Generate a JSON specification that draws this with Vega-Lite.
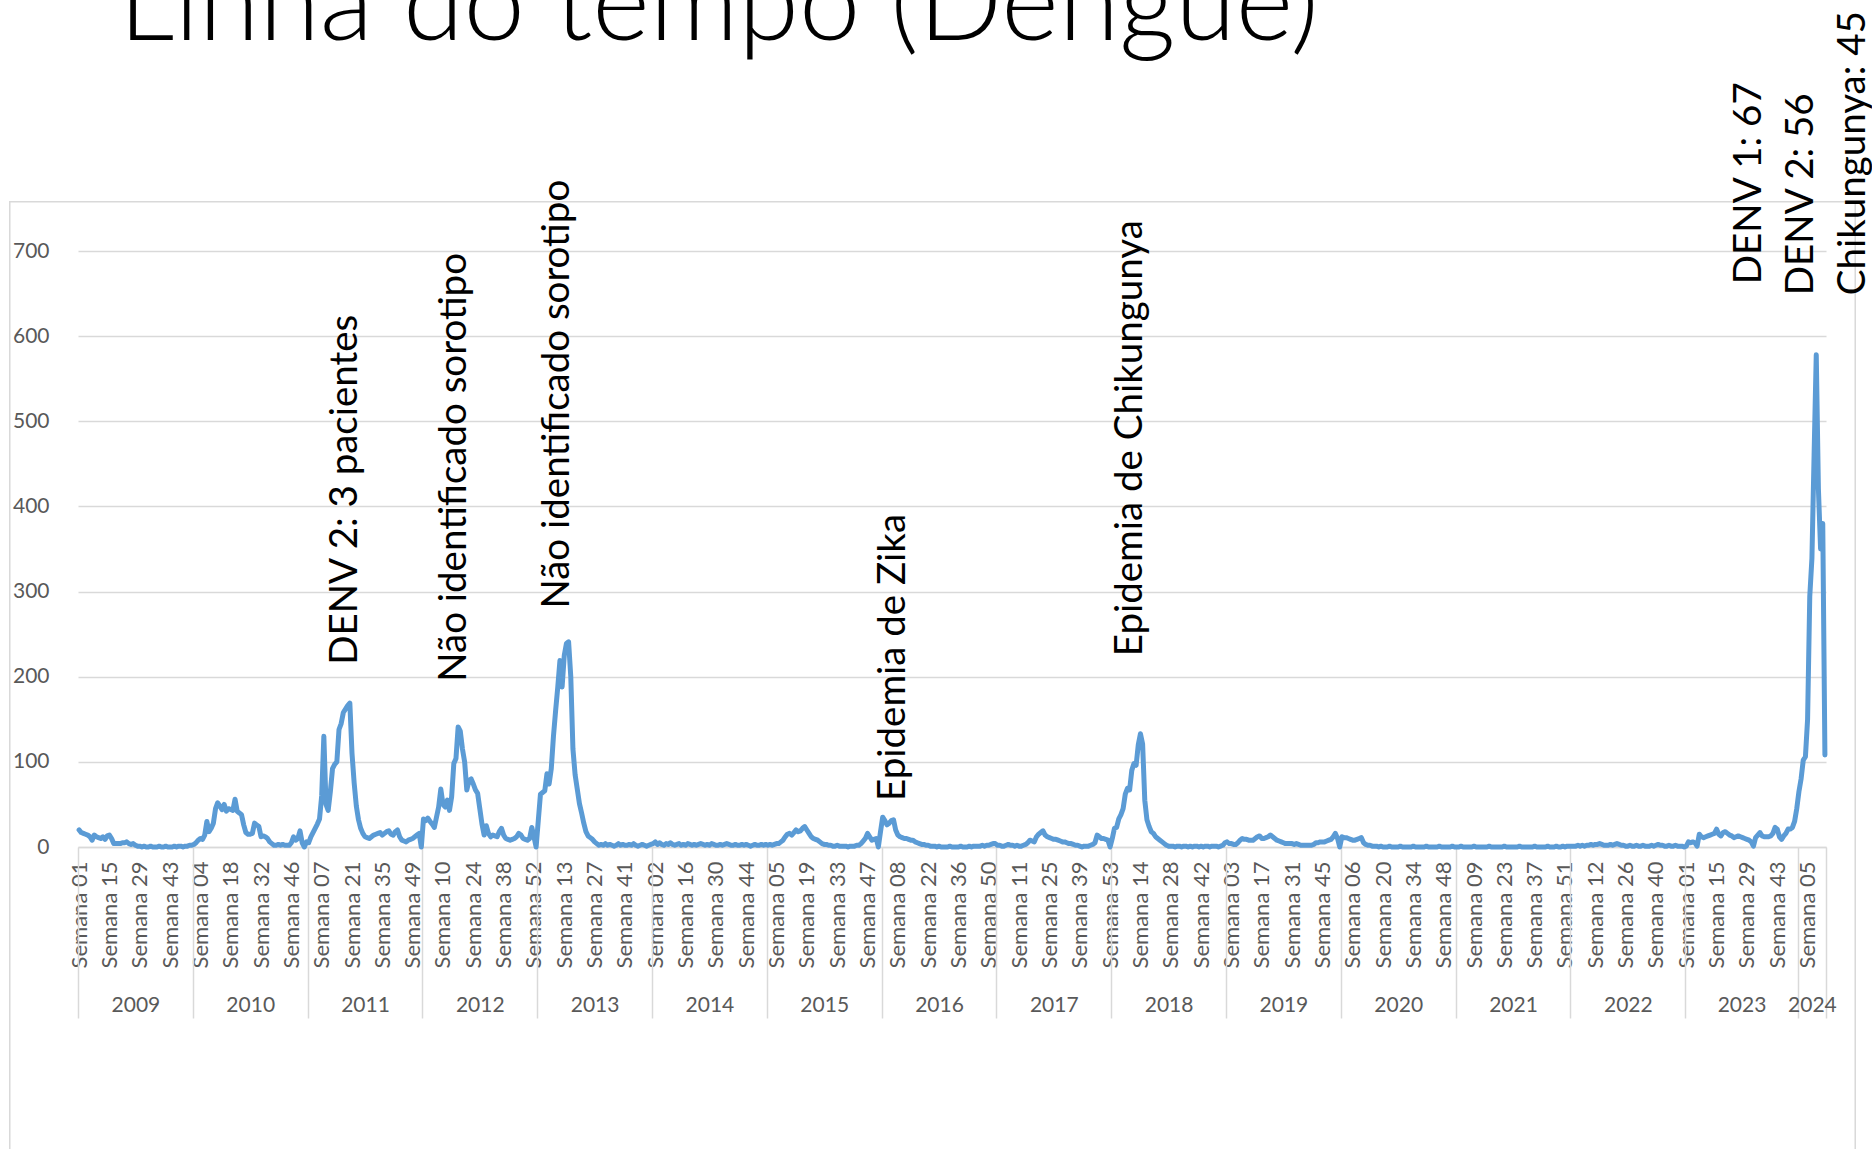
{
  "$schema": "https://vega.github.io/schema/vega-lite/v6.json",
  "autosize": {"type": "none"},
  "width": 1748,
  "height": 596,
  "padding": {"left": 78, "top": 251, "right": 46, "bottom": 302},
  "background": "white",
  "config": {"view": {"stroke": null}, "font": "Lato"},
  "datasets": {
    "casos": [
{"i":0,"v":20},{"i":1,"v":17},{"i":2,"v":16},{"i":3,"v":15},{"i":4,"v":14},{"i":5,"v":12},{"i":6,"v":8},{"i":7,"v":14},{"i":8,"v":12},{"i":9,"v":11},{"i":10,"v":10},{"i":11,"v":12},{"i":12,"v":9},{"i":13,"v":13},{"i":14,"v":14},{"i":15,"v":10},{"i":16,"v":4},{"i":17,"v":4},{"i":18,"v":4},{"i":19,"v":4},{"i":20,"v":5},{"i":21,"v":5},{"i":22,"v":6},{"i":23,"v":4},{"i":24,"v":3},{"i":25,"v":4},{"i":26,"v":2},{"i":27,"v":1},{"i":28,"v":1},{"i":29,"v":0},{"i":30,"v":1},{"i":31,"v":0},{"i":32,"v":0},{"i":33,"v":1},{"i":34,"v":0},{"i":35,"v":0},{"i":36,"v":0},{"i":37,"v":1},{"i":38,"v":0},{"i":39,"v":0},{"i":40,"v":1},{"i":41,"v":0},{"i":42,"v":0},{"i":43,"v":0},{"i":44,"v":1},{"i":45,"v":0},{"i":46,"v":1},{"i":47,"v":1},{"i":48,"v":0},{"i":49,"v":1},{"i":50,"v":1},{"i":51,"v":2},{"i":52,"v":2},
{"i":53,"v":3},{"i":54,"v":5},{"i":55,"v":8},{"i":56,"v":10},{"i":57,"v":9},{"i":58,"v":14},{"i":59,"v":30},{"i":60,"v":18},{"i":61,"v":22},{"i":62,"v":28},{"i":63,"v":45},{"i":64,"v":52},{"i":65,"v":48},{"i":66,"v":44},{"i":67,"v":50},{"i":68,"v":42},{"i":69,"v":45},{"i":70,"v":44},{"i":71,"v":43},{"i":72,"v":56},{"i":73,"v":42},{"i":74,"v":40},{"i":75,"v":38},{"i":76,"v":26},{"i":77,"v":17},{"i":78,"v":15},{"i":79,"v":15},{"i":80,"v":16},{"i":81,"v":28},{"i":82,"v":26},{"i":83,"v":24},{"i":84,"v":12},{"i":85,"v":13},{"i":86,"v":12},{"i":87,"v":10},{"i":88,"v":6},{"i":89,"v":4},{"i":90,"v":2},{"i":91,"v":2},{"i":92,"v":3},{"i":93,"v":2},{"i":94,"v":3},{"i":95,"v":2},{"i":96,"v":2},{"i":97,"v":2},{"i":98,"v":5},{"i":99,"v":12},{"i":100,"v":8},{"i":101,"v":10},{"i":102,"v":19},{"i":103,"v":5},{"i":104,"v":0},{"i":105,"v":6},
{"i":106,"v":5},{"i":107,"v":12},{"i":108,"v":17},{"i":109,"v":22},{"i":110,"v":27},{"i":111,"v":33},{"i":112,"v":60},{"i":113,"v":130},{"i":114,"v":50},{"i":115,"v":43},{"i":116,"v":65},{"i":117,"v":92},{"i":118,"v":97},{"i":119,"v":100},{"i":120,"v":138},{"i":121,"v":145},{"i":122,"v":158},{"i":123,"v":162},{"i":124,"v":166},{"i":125,"v":169},{"i":126,"v":110},{"i":127,"v":75},{"i":128,"v":48},{"i":129,"v":32},{"i":130,"v":22},{"i":131,"v":16},{"i":132,"v":12},{"i":133,"v":11},{"i":134,"v":10},{"i":135,"v":12},{"i":136,"v":14},{"i":137,"v":15},{"i":138,"v":16},{"i":139,"v":17},{"i":140,"v":14},{"i":141,"v":16},{"i":142,"v":18},{"i":143,"v":19},{"i":144,"v":15},{"i":145,"v":14},{"i":146,"v":18},{"i":147,"v":20},{"i":148,"v":12},{"i":149,"v":8},{"i":150,"v":7},{"i":151,"v":6},{"i":152,"v":8},{"i":153,"v":9},{"i":154,"v":10},{"i":155,"v":12},{"i":156,"v":14},{"i":157,"v":16},{"i":158,"v":0},
{"i":159,"v":33},{"i":160,"v":31},{"i":161,"v":34},{"i":162,"v":30},{"i":163,"v":27},{"i":164,"v":23},{"i":165,"v":35},{"i":166,"v":47},{"i":167,"v":68},{"i":168,"v":50},{"i":169,"v":47},{"i":170,"v":55},{"i":171,"v":43},{"i":172,"v":59},{"i":173,"v":98},{"i":174,"v":104},{"i":175,"v":141},{"i":176,"v":136},{"i":177,"v":115},{"i":178,"v":100},{"i":179,"v":67},{"i":180,"v":78},{"i":181,"v":80},{"i":182,"v":74},{"i":183,"v":67},{"i":184,"v":63},{"i":185,"v":45},{"i":186,"v":27},{"i":187,"v":14},{"i":188,"v":25},{"i":189,"v":16},{"i":190,"v":12},{"i":191,"v":14},{"i":192,"v":13},{"i":193,"v":12},{"i":194,"v":18},{"i":195,"v":22},{"i":196,"v":14},{"i":197,"v":10},{"i":198,"v":9},{"i":199,"v":8},{"i":200,"v":9},{"i":201,"v":10},{"i":202,"v":12},{"i":203,"v":16},{"i":204,"v":14},{"i":205,"v":10},{"i":206,"v":9},{"i":207,"v":8},{"i":208,"v":10},{"i":209,"v":23},{"i":210,"v":12},{"i":211,"v":0},
{"i":212,"v":31},{"i":213,"v":62},{"i":214,"v":64},{"i":215,"v":66},{"i":216,"v":86},{"i":217,"v":74},{"i":218,"v":92},{"i":219,"v":130},{"i":220,"v":160},{"i":221,"v":188},{"i":222,"v":219},{"i":223,"v":188},{"i":224,"v":225},{"i":225,"v":239},{"i":226,"v":241},{"i":227,"v":200},{"i":228,"v":115},{"i":229,"v":85},{"i":230,"v":68},{"i":231,"v":51},{"i":232,"v":40},{"i":233,"v":28},{"i":234,"v":18},{"i":235,"v":13},{"i":236,"v":11},{"i":237,"v":9},{"i":238,"v":6},{"i":239,"v":4},{"i":240,"v":2},{"i":241,"v":3},{"i":242,"v":2},{"i":243,"v":4},{"i":244,"v":2},{"i":245,"v":3},{"i":246,"v":2},{"i":247,"v":1},{"i":248,"v":2},{"i":249,"v":4},{"i":250,"v":2},{"i":251,"v":3},{"i":252,"v":2},{"i":253,"v":2},{"i":254,"v":3},{"i":255,"v":2},{"i":256,"v":4},{"i":257,"v":2},{"i":258,"v":1},{"i":259,"v":2},{"i":260,"v":3},{"i":261,"v":2},{"i":262,"v":1},{"i":263,"v":2},{"i":264,"v":3},
{"i":265,"v":4},{"i":266,"v":6},{"i":267,"v":3},{"i":268,"v":5},{"i":269,"v":3},{"i":270,"v":2},{"i":271,"v":4},{"i":272,"v":3},{"i":273,"v":5},{"i":274,"v":3},{"i":275,"v":2},{"i":276,"v":3},{"i":277,"v":4},{"i":278,"v":2},{"i":279,"v":3},{"i":280,"v":2},{"i":281,"v":4},{"i":282,"v":3},{"i":283,"v":2},{"i":284,"v":3},{"i":285,"v":2},{"i":286,"v":3},{"i":287,"v":4},{"i":288,"v":3},{"i":289,"v":2},{"i":290,"v":3},{"i":291,"v":2},{"i":292,"v":4},{"i":293,"v":3},{"i":294,"v":2},{"i":295,"v":2},{"i":296,"v":3},{"i":297,"v":2},{"i":298,"v":3},{"i":299,"v":4},{"i":300,"v":3},{"i":301,"v":2},{"i":302,"v":2},{"i":303,"v":3},{"i":304,"v":2},{"i":305,"v":2},{"i":306,"v":3},{"i":307,"v":2},{"i":308,"v":3},{"i":309,"v":2},{"i":310,"v":1},{"i":311,"v":2},{"i":312,"v":3},{"i":313,"v":2},{"i":314,"v":2},{"i":315,"v":3},{"i":316,"v":2},{"i":317,"v":3},
{"i":318,"v":2},{"i":319,"v":3},{"i":320,"v":2},{"i":321,"v":3},{"i":322,"v":4},{"i":323,"v":4},{"i":324,"v":6},{"i":325,"v":8},{"i":326,"v":12},{"i":327,"v":15},{"i":328,"v":16},{"i":329,"v":14},{"i":330,"v":17},{"i":331,"v":20},{"i":332,"v":18},{"i":333,"v":19},{"i":334,"v":22},{"i":335,"v":24},{"i":336,"v":20},{"i":337,"v":16},{"i":338,"v":12},{"i":339,"v":10},{"i":340,"v":9},{"i":341,"v":8},{"i":342,"v":6},{"i":343,"v":4},{"i":344,"v":3},{"i":345,"v":3},{"i":346,"v":2},{"i":347,"v":2},{"i":348,"v":1},{"i":349,"v":1},{"i":350,"v":2},{"i":351,"v":1},{"i":352,"v":1},{"i":353,"v":1},{"i":354,"v":1},{"i":355,"v":0},{"i":356,"v":1},{"i":357,"v":1},{"i":358,"v":1},{"i":359,"v":2},{"i":360,"v":2},{"i":361,"v":4},{"i":362,"v":7},{"i":363,"v":10},{"i":364,"v":16},{"i":365,"v":12},{"i":366,"v":8},{"i":367,"v":9},{"i":368,"v":10},{"i":369,"v":0},{"i":370,"v":18},
{"i":371,"v":35},{"i":372,"v":31},{"i":373,"v":26},{"i":374,"v":28},{"i":375,"v":31},{"i":376,"v":32},{"i":377,"v":20},{"i":378,"v":14},{"i":379,"v":12},{"i":380,"v":11},{"i":381,"v":10},{"i":382,"v":10},{"i":383,"v":9},{"i":384,"v":8},{"i":385,"v":8},{"i":386,"v":6},{"i":387,"v":5},{"i":388,"v":4},{"i":389,"v":3},{"i":390,"v":3},{"i":391,"v":2},{"i":392,"v":2},{"i":393,"v":1},{"i":394,"v":1},{"i":395,"v":1},{"i":396,"v":0},{"i":397,"v":1},{"i":398,"v":0},{"i":399,"v":0},{"i":400,"v":0},{"i":401,"v":0},{"i":402,"v":1},{"i":403,"v":0},{"i":404,"v":0},{"i":405,"v":0},{"i":406,"v":0},{"i":407,"v":1},{"i":408,"v":0},{"i":409,"v":0},{"i":410,"v":0},{"i":411,"v":1},{"i":412,"v":0},{"i":413,"v":1},{"i":414,"v":1},{"i":415,"v":1},{"i":416,"v":1},{"i":417,"v":2},{"i":418,"v":1},{"i":419,"v":2},{"i":420,"v":2},{"i":421,"v":3},{"i":422,"v":4},{"i":423,"v":4},
{"i":424,"v":2},{"i":425,"v":2},{"i":426,"v":1},{"i":427,"v":1},{"i":428,"v":2},{"i":429,"v":3},{"i":430,"v":2},{"i":431,"v":2},{"i":432,"v":1},{"i":433,"v":2},{"i":434,"v":1},{"i":435,"v":1},{"i":436,"v":2},{"i":437,"v":3},{"i":438,"v":5},{"i":439,"v":8},{"i":440,"v":7},{"i":441,"v":6},{"i":442,"v":12},{"i":443,"v":15},{"i":444,"v":17},{"i":445,"v":19},{"i":446,"v":14},{"i":447,"v":12},{"i":448,"v":11},{"i":449,"v":10},{"i":450,"v":9},{"i":451,"v":9},{"i":452,"v":8},{"i":453,"v":7},{"i":454,"v":6},{"i":455,"v":6},{"i":456,"v":5},{"i":457,"v":4},{"i":458,"v":4},{"i":459,"v":3},{"i":460,"v":2},{"i":461,"v":2},{"i":462,"v":1},{"i":463,"v":0},{"i":464,"v":1},{"i":465,"v":1},{"i":466,"v":1},{"i":467,"v":2},{"i":468,"v":3},{"i":469,"v":5},{"i":470,"v":14},{"i":471,"v":12},{"i":472,"v":10},{"i":473,"v":10},{"i":474,"v":9},{"i":475,"v":8},{"i":476,"v":0},
{"i":477,"v":10},{"i":478,"v":22},{"i":479,"v":23},{"i":480,"v":33},{"i":481,"v":38},{"i":482,"v":45},{"i":483,"v":62},{"i":484,"v":69},{"i":485,"v":67},{"i":486,"v":90},{"i":487,"v":98},{"i":488,"v":96},{"i":489,"v":120},{"i":490,"v":133},{"i":491,"v":121},{"i":492,"v":55},{"i":493,"v":32},{"i":494,"v":24},{"i":495,"v":18},{"i":496,"v":16},{"i":497,"v":12},{"i":498,"v":10},{"i":499,"v":8},{"i":500,"v":6},{"i":501,"v":4},{"i":502,"v":2},{"i":503,"v":1},{"i":504,"v":1},{"i":505,"v":1},{"i":506,"v":0},{"i":507,"v":1},{"i":508,"v":1},{"i":509,"v":0},{"i":510,"v":1},{"i":511,"v":1},{"i":512,"v":0},{"i":513,"v":1},{"i":514,"v":0},{"i":515,"v":1},{"i":516,"v":1},{"i":517,"v":0},{"i":518,"v":1},{"i":519,"v":0},{"i":520,"v":1},{"i":521,"v":1},{"i":522,"v":0},{"i":523,"v":1},{"i":524,"v":1},{"i":525,"v":1},{"i":526,"v":0},{"i":527,"v":1},{"i":528,"v":2},{"i":529,"v":5},
{"i":530,"v":6},{"i":531,"v":4},{"i":532,"v":4},{"i":533,"v":3},{"i":534,"v":3},{"i":535,"v":5},{"i":536,"v":8},{"i":537,"v":10},{"i":538,"v":9},{"i":539,"v":9},{"i":540,"v":8},{"i":541,"v":8},{"i":542,"v":8},{"i":543,"v":10},{"i":544,"v":12},{"i":545,"v":13},{"i":546,"v":10},{"i":547,"v":10},{"i":548,"v":11},{"i":549,"v":12},{"i":550,"v":14},{"i":551,"v":12},{"i":552,"v":10},{"i":553,"v":8},{"i":554,"v":7},{"i":555,"v":6},{"i":556,"v":5},{"i":557,"v":4},{"i":558,"v":4},{"i":559,"v":4},{"i":560,"v":4},{"i":561,"v":3},{"i":562,"v":4},{"i":563,"v":3},{"i":564,"v":2},{"i":565,"v":2},{"i":566,"v":2},{"i":567,"v":2},{"i":568,"v":2},{"i":569,"v":2},{"i":570,"v":3},{"i":571,"v":5},{"i":572,"v":5},{"i":573,"v":6},{"i":574,"v":6},{"i":575,"v":6},{"i":576,"v":7},{"i":577,"v":8},{"i":578,"v":9},{"i":579,"v":12},{"i":580,"v":16},{"i":581,"v":10},{"i":582,"v":0},
{"i":583,"v":12},{"i":584,"v":11},{"i":585,"v":11},{"i":586,"v":10},{"i":587,"v":9},{"i":588,"v":8},{"i":589,"v":8},{"i":590,"v":9},{"i":591,"v":10},{"i":592,"v":11},{"i":593,"v":5},{"i":594,"v":3},{"i":595,"v":2},{"i":596,"v":2},{"i":597,"v":1},{"i":598,"v":1},{"i":599,"v":1},{"i":600,"v":0},{"i":601,"v":1},{"i":602,"v":0},{"i":603,"v":0},{"i":604,"v":0},{"i":605,"v":1},{"i":606,"v":0},{"i":607,"v":0},{"i":608,"v":0},{"i":609,"v":0},{"i":610,"v":1},{"i":611,"v":0},{"i":612,"v":0},{"i":613,"v":0},{"i":614,"v":0},{"i":615,"v":0},{"i":616,"v":1},{"i":617,"v":0},{"i":618,"v":0},{"i":619,"v":0},{"i":620,"v":0},{"i":621,"v":0},{"i":622,"v":1},{"i":623,"v":0},{"i":624,"v":0},{"i":625,"v":0},{"i":626,"v":0},{"i":627,"v":0},{"i":628,"v":1},{"i":629,"v":0},{"i":630,"v":0},{"i":631,"v":0},{"i":632,"v":0},{"i":633,"v":0},{"i":634,"v":1},{"i":635,"v":0},
{"i":636,"v":0},{"i":637,"v":0},{"i":638,"v":1},{"i":639,"v":0},{"i":640,"v":0},{"i":641,"v":0},{"i":642,"v":0},{"i":643,"v":0},{"i":644,"v":1},{"i":645,"v":0},{"i":646,"v":0},{"i":647,"v":0},{"i":648,"v":0},{"i":649,"v":0},{"i":650,"v":0},{"i":651,"v":1},{"i":652,"v":0},{"i":653,"v":0},{"i":654,"v":0},{"i":655,"v":0},{"i":656,"v":0},{"i":657,"v":0},{"i":658,"v":1},{"i":659,"v":0},{"i":660,"v":0},{"i":661,"v":0},{"i":662,"v":0},{"i":663,"v":0},{"i":664,"v":0},{"i":665,"v":1},{"i":666,"v":0},{"i":667,"v":0},{"i":668,"v":0},{"i":669,"v":0},{"i":670,"v":0},{"i":671,"v":0},{"i":672,"v":1},{"i":673,"v":0},{"i":674,"v":0},{"i":675,"v":0},{"i":676,"v":0},{"i":677,"v":0},{"i":678,"v":1},{"i":679,"v":0},{"i":680,"v":0},{"i":681,"v":0},{"i":682,"v":1},{"i":683,"v":0},{"i":684,"v":0},{"i":685,"v":1},{"i":686,"v":0},{"i":687,"v":1},{"i":688,"v":1},
{"i":689,"v":1},{"i":690,"v":1},{"i":691,"v":1},{"i":692,"v":2},{"i":693,"v":1},{"i":694,"v":2},{"i":695,"v":1},{"i":696,"v":2},{"i":697,"v":2},{"i":698,"v":3},{"i":699,"v":2},{"i":700,"v":3},{"i":701,"v":3},{"i":702,"v":4},{"i":703,"v":3},{"i":704,"v":2},{"i":705,"v":2},{"i":706,"v":2},{"i":707,"v":3},{"i":708,"v":2},{"i":709,"v":3},{"i":710,"v":4},{"i":711,"v":3},{"i":712,"v":2},{"i":713,"v":2},{"i":714,"v":1},{"i":715,"v":1},{"i":716,"v":2},{"i":717,"v":1},{"i":718,"v":1},{"i":719,"v":2},{"i":720,"v":1},{"i":721,"v":1},{"i":722,"v":2},{"i":723,"v":1},{"i":724,"v":1},{"i":725,"v":1},{"i":726,"v":2},{"i":727,"v":1},{"i":728,"v":2},{"i":729,"v":3},{"i":730,"v":2},{"i":731,"v":2},{"i":732,"v":1},{"i":733,"v":1},{"i":734,"v":2},{"i":735,"v":1},{"i":736,"v":1},{"i":737,"v":2},{"i":738,"v":1},{"i":739,"v":1},{"i":740,"v":1},{"i":741,"v":0},
{"i":742,"v":1},{"i":743,"v":6},{"i":744,"v":5},{"i":745,"v":6},{"i":746,"v":5},{"i":747,"v":1},{"i":748,"v":15},{"i":749,"v":12},{"i":750,"v":11},{"i":751,"v":12},{"i":752,"v":13},{"i":753,"v":14},{"i":754,"v":15},{"i":755,"v":16},{"i":756,"v":21},{"i":757,"v":15},{"i":758,"v":13},{"i":759,"v":17},{"i":760,"v":18},{"i":761,"v":16},{"i":762,"v":14},{"i":763,"v":13},{"i":764,"v":11},{"i":765,"v":12},{"i":766,"v":13},{"i":767,"v":12},{"i":768,"v":11},{"i":769,"v":10},{"i":770,"v":9},{"i":771,"v":8},{"i":772,"v":6},{"i":773,"v":1},{"i":774,"v":11},{"i":775,"v":14},{"i":776,"v":17},{"i":777,"v":13},{"i":778,"v":12},{"i":779,"v":12},{"i":780,"v":12},{"i":781,"v":13},{"i":782,"v":16},{"i":783,"v":23},{"i":784,"v":21},{"i":785,"v":12},{"i":786,"v":9},{"i":787,"v":13},{"i":788,"v":16},{"i":789,"v":21},{"i":790,"v":21},{"i":791,"v":23},{"i":792,"v":30},{"i":793,"v":45},
{"i":794,"v":65},{"i":795,"v":80},{"i":796,"v":102},{"i":797,"v":106},{"i":798,"v":150},{"i":799,"v":294},{"i":800,"v":339},{"i":801,"v":460},{"i":802,"v":578},{"i":803,"v":420},{"i":804,"v":350},{"i":805,"v":380},{"i":806,"v":108}
    ],
    "notas": [
      {"i": 128.1, "v": 214, "t": "DENV 2: 3 pacientes"},
      {"i": 178.8, "v": 194, "t": "Não identificado sorotipo"},
      {"i": 226.2, "v": 280, "t": "Não identificado sorotipo"},
      {"i": 381.1, "v": 54, "t": "Epidemia de Zika"},
      {"i": 490.7, "v": 224, "t": "Epidemia de Chikungunya"},
      {"i": 776.7, "v": 661, "t": "DENV 1: 67"},
      {"i": 800.5, "v": 648, "t": "DENV 2: 56"},
      {"i": 824.7, "v": 648, "t": "Chikungunya: 45"}
    ],
    "anos": [
      {"ano": "2009", "meio": 26, "ini": -0.5},
      {"ano": "2010", "meio": 79, "ini": 52.5},
      {"ano": "2011", "meio": 132, "ini": 105.5},
      {"ano": "2012", "meio": 185, "ini": 158.5},
      {"ano": "2013", "meio": 238, "ini": 211.5},
      {"ano": "2014", "meio": 291, "ini": 264.5},
      {"ano": "2015", "meio": 344, "ini": 317.5},
      {"ano": "2016", "meio": 397, "ini": 370.5},
      {"ano": "2017", "meio": 450, "ini": 423.5},
      {"ano": "2018", "meio": 503, "ini": 476.5},
      {"ano": "2019", "meio": 556, "ini": 529.5},
      {"ano": "2020", "meio": 609, "ini": 582.5},
      {"ano": "2021", "meio": 662, "ini": 635.5},
      {"ano": "2022", "meio": 715, "ini": 688.5},
      {"ano": "2023", "meio": 767.5, "ini": 741.5},
      {"ano": "2024", "meio": 800, "ini": 793.5}
    ]
  },
  "layer": [
    {
      "data": {"name": "casos"},
      "mark": {"type": "line", "color": "#5b9bd5", "strokeWidth": 5, "strokeJoin": "round", "strokeCap": "round"},
      "encoding": {
        "x": {
          "field": "i", "type": "quantitative",
          "scale": {"domain": [-0.5, 806.5], "nice": false, "zero": false},
          "axis": {
            "orient": "bottom", "offset": 0, "title": null,
            "values": [0,14,28,42,56,70,84,98,112,126,140,154,168,182,196,210,224,238,252,266,280,294,308,322,336,350,364,378,392,406,420,434,448,462,476,490,504,518,532,546,560,574,588,602,616,630,644,658,672,686,700,714,728,742,756,770,784,798],
            "labelExpr": "'Semana ' + ['01','15','29','43','04','18','32','46','07','21','35','49','10','24','38','52','13','27','41','02','16','30','44','05','19','33','47','08','22','36','50','11','25','39','53','14','28','42','03','17','31','45','06','20','34','48','09','23','37','51','12','26','40','01','15','29','43','05'][round(datum.value / 14)]",
            "labelAngle": 270, "labelAlign": "right", "labelBaseline": "middle",
            "labelPadding": 14, "labelFont": "Lato", "labelFontSize": 22, "labelColor": "#595959",
            "labelOverlap": false, "labelFlush": false, "labelBound": false,
            "ticks": false, "tickSize": 0, "grid": false,
            "domain": true, "domainColor": "#d9d9d9", "domainWidth": 1.5
          }
        },
        "y": {
          "field": "v", "type": "quantitative",
          "scale": {"domain": [0, 700], "nice": false},
          "axis": {
            "orient": "left", "title": null, "values": [0, 100, 200, 300, 400, 500, 600, 700],
            "domain": false, "ticks": false, "tickSize": 0,
            "grid": true, "gridColor": "#d9d9d9", "gridWidth": 1.5,
            "labelPadding": 29, "labelFont": "Lato", "labelFontSize": 21, "labelColor": "#595959"
          }
        }
      }
    },
    {
      "data": {"values": [{}]},
      "mark": {"type": "rect", "filled": false, "stroke": "#d9d9d9", "strokeWidth": 1.5},
      "encoding": {
        "x": {"datum": -32, "type": "quantitative", "axis": null},
        "x2": {"datum": 820},
        "y": {"datum": 757.7, "type": "quantitative", "axis": null},
        "y2": {"datum": -400}
      }
    },
    {
      "data": {"name": "anos"},
      "mark": {"type": "rule", "opacity": 0},
      "encoding": {
        "x": {
          "field": "ini", "type": "quantitative",
          "axis": {
            "orient": "bottom", "offset": 0, "title": null,
            "values": [-0.5, 52.5, 105.5, 158.5, 211.5, 264.5, 317.5, 370.5, 423.5, 476.5, 529.5, 582.5, 635.5, 688.5, 741.5, 793.5, 806.5],
            "labels": false, "domain": false, "grid": false,
            "ticks": true, "tickSize": 171, "tickColor": "#d9d9d9", "tickWidth": 1.5
          }
        }
      }
    },
    {
      "data": {"name": "anos"},
      "mark": {"type": "rule", "opacity": 0},
      "encoding": {
        "x": {
          "field": "meio", "type": "quantitative",
          "axis": {
            "orient": "bottom", "offset": 0, "title": null,
            "values": [26, 79, 132, 185, 238, 291, 344, 397, 450, 503, 556, 609, 662, 715, 767.5, 800],
            "labelExpr": "['2009','2010','2011','2012','2013','2014','2015','2016','2017','2018','2019','2020','2021','2022','2023','2024'][indexof([26,79,132,185,238,291,344,397,450,503,556,609,662,715,767.5,800], datum.value)]",
            "domain": false, "grid": false, "ticks": false, "tickSize": 0,
            "labelPadding": 147, "labelFont": "Lato", "labelFontSize": 21, "labelColor": "#595959",
            "labelOverlap": false, "labelFlush": false, "labelBound": false
          }
        }
      }
    },
    {
      "data": {"name": "notas"},
      "mark": {"type": "text", "angle": 270, "align": "left", "baseline": "alphabetic", "font": "Lato", "fontSize": 38.5, "color": "#000000"},
      "encoding": {
        "x": {"field": "i", "type": "quantitative", "axis": null},
        "y": {"field": "v", "type": "quantitative", "axis": null},
        "text": {"field": "t"}
      }
    },
    {
      "data": {"values": [{"t": "Linha do tempo (Dengue)"}]},
      "mark": {"type": "text", "align": "left", "baseline": "alphabetic", "font": "Lato", "fontWeight": 300, "fontSize": 110, "color": "#000000"},
      "encoding": {
        "x": {"datum": 18.3, "type": "quantitative", "axis": null},
        "y": {"datum": 948.3, "type": "quantitative", "axis": null},
        "text": {"field": "t"}
      }
    }
  ],
  "resolve": {"axis": {"x": "independent", "y": "independent"}}
}
